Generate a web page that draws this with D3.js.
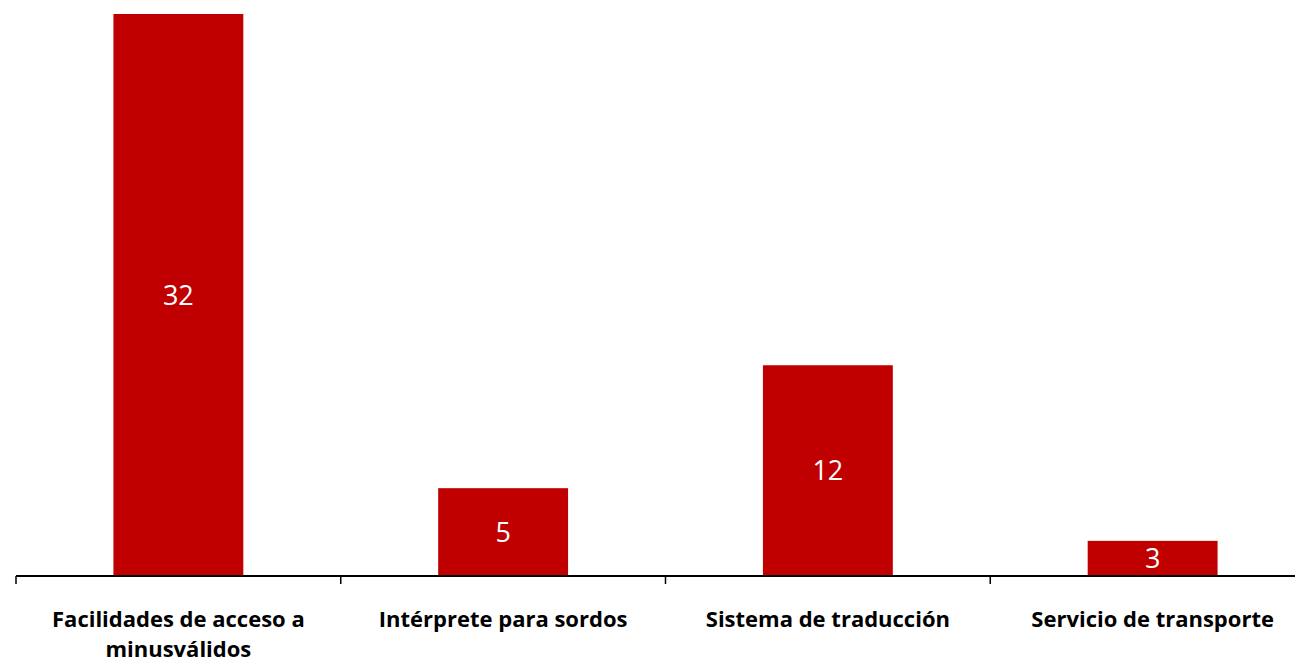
<!DOCTYPE html>
<html>
<head>
<meta charset="utf-8">
<script src="https://cdn.jsdelivr.net/npm/d3@7"></script>
<style>
  body { margin: 0; background: #fff; }
  svg { display: block; }
</style>
</head>
<body>
<div id="chart"></div>
<script>
const categories = ["Facilidades de acceso a minusválidos", "Intérprete para sordos", "Sistema de traducción", "Servicio de transporte"];
// bar heights as drawn in the picture (the last bar is drawn shorter than its label)
const values = [32, 5, 12, 2];
const valueLabels = ["32", "5", "12", "3"];

const width = 1295;
const height = 662;
const baseline = 576;
const font = "'Open Sans', sans-serif";

const svg = d3.select("#chart")
    .append("svg")
    .attr("width", width)
    .attr("height", height);

const x = d3.scaleBand()
    .domain(categories)
    .range([16, 1315])
    .padding(0);

const y = d3.scaleLinear()
    .domain([0, 32])
    .range([baseline, 14]);

const barW = x.bandwidth() * 0.4;

// bars
svg.selectAll("rect.bar")
    .data(categories)
    .join("rect")
    .attr("class", "bar")
    .attr("x", (d) => x(d) + (x.bandwidth() - barW) / 2)
    .attr("y", (d, i) => y(values[i]))
    .attr("width", barW)
    .attr("height", (d, i) => baseline - y(values[i]))
    .attr("fill", "#c00000");

// value labels, centred in each bar
svg.selectAll("text.val")
    .data(categories)
    .join("text")
    .attr("class", "val")
    .attr("x", (d) => x(d) + x.bandwidth() / 2)
    .attr("y", (d, i) => (y(values[i]) + baseline) / 2)
    .attr("dy", "0.36em")
    .attr("text-anchor", "middle")
    .attr("font-family", font)
    .attr("font-size", "27px")
    .attr("fill", "#fff")
    .text((d, i) => valueLabels[i]);

// axis line and boundary ticks
const axis = svg.append("g");
axis.append("line")
    .attr("x1", 16).attr("x2", width)
    .attr("y1", baseline).attr("y2", baseline)
    .attr("stroke", "#000")
    .attr("stroke-width", 2);

const bounds = categories.map((c) => x(c)).concat([x.range()[1]]);
axis.selectAll("line.tick")
    .data(bounds)
    .join("line")
    .attr("class", "tick")
    .attr("x1", (d) => d).attr("x2", (d) => d)
    .attr("y1", baseline).attr("y2", baseline + 8)
    .attr("stroke", "#000")
    .attr("stroke-width", 1.5);

// category labels, wrapped to the band
function wrap(text, maxW) {
    text.each(function () {
        const t = d3.select(this);
        const words = t.text().split(" ");
        const cx = t.attr("x");
        t.text(null);
        let line = [];
        let tspan = t.append("tspan").attr("x", cx).attr("dy", 0);
        words.forEach((w) => {
            line.push(w);
            tspan.text(line.join(" "));
            if (tspan.node().getComputedTextLength() > maxW && line.length > 1) {
                line.pop();
                tspan.text(line.join(" "));
                line = [w];
                tspan = t.append("tspan").attr("x", cx).attr("dy", "30px").text(w);
            }
        });
    });
}

svg.selectAll("text.cat")
    .data(categories)
    .join("text")
    .attr("class", "cat")
    .attr("x", (d) => x(d) + x.bandwidth() / 2)
    .attr("y", 627)
    .attr("text-anchor", "middle")
    .attr("font-family", font)
    .attr("font-weight", "bold")
    .attr("font-size", "22px")
    .attr("fill", "#000")
    .text((d) => d)
    .call(wrap, 300);
</script>
</body>
</html>
